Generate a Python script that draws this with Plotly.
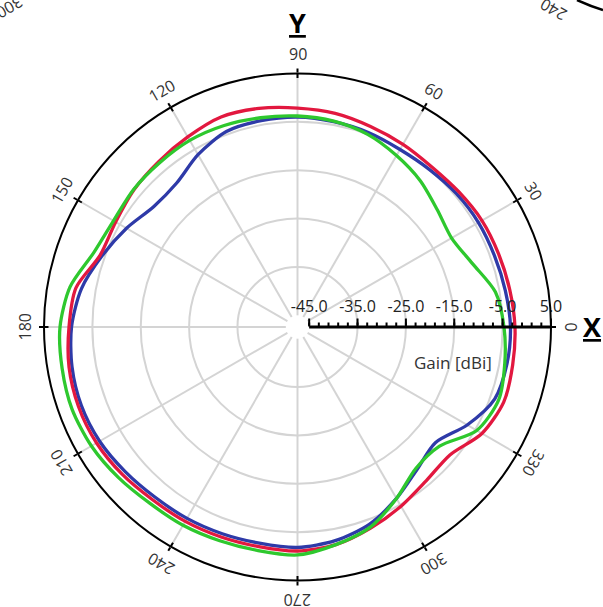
import math
import plotly.graph_objects as go

# ---------------- data ----------------
theta_deg = [0, 10, 20, 30, 40, 50, 60, 70, 80, 90, 100, 110,
             120, 130, 140, 150, 160, 170, 180, 190, 200, 210, 220, 230,
             240, 250, 260, 270, 280, 290, 300, 310, 320, 330, 340, 350]

red_db = [-2.45, -2.86, -3.17, -3.38, -3.9, -4.2, -3.8, -3.28, -2.55, -2.14, -1.52, -1.21,
          -2.04, -2.76, -3.28, -4.0, -4.0, -0.9, -0.17, 0.55, 0.76, 0.55, -0.07, -0.79,
          -1.0, -1.21, -1.31, -1.1, -1.72, -3.17, -4.62, -5.96, -6.27, -3.38, -2.04, -2.24]

blue_db = [-3.38, -3.79, -4.1, -4.21, -4.52, -4.93, -5.03, -4.62, -4.31, -4.0, -4.1, -4.41,
           -6.27, -8.55, -8.65, -6.59, -4.41, -2.04, -0.69, -0.07, 0.14, -0.17, -0.9, -1.52,
           -1.72, -1.93, -2.04, -1.83, -2.55, -4.0, -6.48, -8.96, -10.2, -6.9, -4.0, -3.44]

green_db = [-4.72, -5.86, -8.96, -10.62, -9.69, -7.93, -6.48, -5.03, -4.21, -3.79, -3.48, -3.07,
            -2.86, -3.07, -3.17, -3.48, -2.55, 0.34, 1.69, 2.0, 2.2, 1.79, 0.96, 0.14,
            -0.07, -0.38, -0.48, -0.28, -1.72, -3.38, -6.48, -9.3, -9.07, -4.62, -3.17, -3.9]

radial_ticks = [-45, -35, -25, -15, -5, 5]
angular_ticks = [0, 30, 60, 90, 120, 150, 180, 210, 240, 270, 300, 330]

# ---------------- geometry ----------------
W, H = 603, 607
CX, CY, R = 297.5, 327.0, 253.5
HOLE = 0.046
dom_x = [(CX - R) / W, (CX + R) / W]
dom_y = [(H - CY - R) / H, (H - CY + R) / H]

FONT = "Open Sans"
GRID = "#d4d4d4"


def closed(v):
    return list(v) + [v[0]]


fig = go.Figure()
for vals, col in [(blue_db, "#2e3aa8"), (red_db, "#e2183f"), (green_db, "#2ec82e")]:
    fig.add_trace(go.Scatterpolar(
        r=closed(vals), theta=closed(theta_deg), mode="lines",
        line=dict(color=col, width=3.3, shape="spline", smoothing=0.8),
        showlegend=False, hoverinfo="skip", subplot="polar"))

# empty traces so the overlay subplots (minor ticks, outer ring) are drawn
fig.add_trace(go.Scatterpolar(r=[], theta=[], subplot="polar2", showlegend=False))
fig.add_trace(go.Scatterpolar(r=[], theta=[], subplot="polar3", showlegend=False))

fig.update_layout(
    width=W, height=H, autosize=False,
    margin=dict(l=0, r=0, t=0, b=0),
    paper_bgcolor="white",
    font=dict(family=FONT, color="#333333"),
    polar=dict(
        domain=dict(x=dom_x, y=dom_y),
        hole=HOLE,
        bgcolor="white",
        radialaxis=dict(
            range=[-45, 5], tickmode="array", tickvals=radial_ticks,
            ticktext=[f"{v:.1f}" for v in radial_ticks],
            angle=0, side="counterclockwise",
            ticks="outside", ticklen=7, tickwidth=2, tickcolor="black",
            showline=True, linecolor="black", linewidth=3,
            gridcolor=GRID, gridwidth=1.5,
            tickfont=dict(size=16, color="#222222", family=FONT),
            layer="above traces"),
        angularaxis=dict(
            rotation=0, direction="counterclockwise",
            tickmode="array", tickvals=angular_ticks,
            showticklabels=False, ticks="",
            showline=False,
            gridcolor=GRID, gridwidth=1.5),
    ),
    polar2=dict(
        domain=dict(x=dom_x, y=dom_y),
        hole=HOLE,
        bgcolor="rgba(0,0,0,0)",
        radialaxis=dict(
            range=[-45, 5], tickmode="linear", tick0=-45, dtick=2,
            angle=0, side="counterclockwise",
            ticks="outside", ticklen=4, tickwidth=1.5, tickcolor="black",
            showticklabels=False, showline=False, showgrid=False),
        angularaxis=dict(
            rotation=0, direction="counterclockwise",
            tickmode="array", tickvals=angular_ticks,
            showticklabels=False,
            ticks="inside", ticklen=4, tickwidth=1.5, tickcolor="black",
            showline=False, showgrid=False),
    ),
    polar3=dict(
        domain=dict(x=dom_x, y=dom_y),
        hole=0,
        bgcolor="rgba(0,0,0,0)",
        radialaxis=dict(visible=False, range=[-45, 5]),
        angularaxis=dict(
            rotation=0, direction="counterclockwise",
            tickmode="array", tickvals=angular_ticks,
            showticklabels=False,
            ticks="outside", ticklen=4, tickwidth=1.5, tickcolor="black",
            showline=True, linecolor="black", linewidth=2, showgrid=False),
    ),
)

annotations = []
LR = 273.0
for a in angular_ticks:
    px = CX + LR * math.cos(math.radians(a))
    py = CY - LR * math.sin(math.radians(a))
    ang = 90 - a
    while ang > 180:
        ang -= 360
    while ang <= -180:
        ang += 360
    annotations.append(dict(
        x=px / W, y=1 - py / H, xref="paper", yref="paper",
        text=str(a), showarrow=False, textangle=ang,
        xanchor="center", yanchor="middle",
        font=dict(size=16, color="#333333", family=FONT)))

annotations += [
    dict(x=297 / W, y=1 - 22 / H, xref="paper", yref="paper", text="<b><u>Y</u></b>",
         showarrow=False, font=dict(size=27, color="black", family=FONT),
         xanchor="center", yanchor="middle"),
    dict(x=592 / W, y=1 - 326 / H, xref="paper", yref="paper", text="<b><u>X</u></b>",
         showarrow=False, font=dict(size=27, color="black", family=FONT),
         xanchor="center", yanchor="middle"),
    dict(x=453 / W, y=1 - 362 / H, xref="paper", yref="paper", text="Gain [dBi]",
         showarrow=False, font=dict(size=17, color="#333333", family=FONT),
         xanchor="center", yanchor="middle"),
    dict(x=10 / W, y=1 - 7 / H, xref="paper", yref="paper", text="300",
         showarrow=False, textangle=150, font=dict(size=16, color="#333333", family=FONT),
         xanchor="center", yanchor="middle"),
    dict(x=554 / W, y=1 - 10 / H, xref="paper", yref="paper", text="240",
         showarrow=False, textangle=-150, font=dict(size=16, color="#333333", family=FONT),
         xanchor="center", yanchor="middle"),
]
fig.update_layout(annotations=annotations)

# partial ring of a neighbouring chart visible in the top-right corner
fig.add_shape(type="path", xref="paper", yref="paper",
              path=f"M {577 / W} {1 - 0 / H} Q {590 / W} {1 - 6 / H} {603 / W} {1 - 10 / H}",
              line=dict(color="black", width=2.5))

fig.write_html("out.html", config={"displayModeBar": False},
               post_script="document.body.style.margin='0';")
